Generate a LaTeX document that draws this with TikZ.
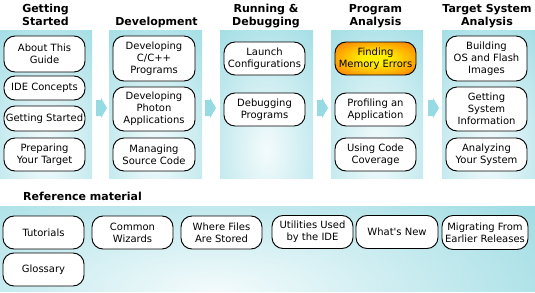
\documentclass[tikz,border=0pt]{standalone}
\usepackage{fontspec}
\setmainfont{DejaVu Sans}[Ligatures=TeXOff]
\definecolor{panelcyan}{RGB}{146,216,224}
\definecolor{panelin}{RGB}{244,251,252}
\definecolor{arrowcyan}{RGB}{150,218,228}
\definecolor{glowyellow}{RGB}{255,240,0}
\definecolor{glowmid}{RGB}{255,160,0}
\definecolor{gloworange}{RGB}{238,90,16}
\pgfdeclareradialshading{orangeglow}{\pgfpoint{0bp}{0bp}}{%
  color(0bp)=(glowyellow); color(8bp)=(glowyellow); color(26bp)=(glowmid);
  color(42bp)=(gloworange); color(72bp)=(gloworange)}
\tikzset{
  box/.style={draw=black, line width=0.95pt, rounded corners=11pt, fill=white,
    align=center, inner sep=0pt, text=black,
    font=\fontsize{10}{12}\selectfont},
  sz/.style 2 args={minimum width=#1pt, minimum height=#2pt},
  hot/.style={shading=orangeglow},
  head/.style={align=center, inner sep=0pt, text=black,
    font=\fontsize{11}{13}\selectfont\bfseries},
  blockarrow/.style={fill=arrowcyan, draw=none}
}
\begin{document}
\begin{tikzpicture}[x=1pt,y=-1pt]
\useasboundingbox (0,0) rectangle (535,292);
% column panels
\foreach \l/\r in {0/92, 109/202, 220/313, 331/423, 442/535}{
  \begin{scope}
    \clip (\l,30) rectangle (\r,178);
    \fill[panelcyan] (\l,30) rectangle (\r,178);
    \shade[inner color=panelin, outer color=panelcyan] ({(\l+\r)/2},150) ellipse (100 and 180);
  \end{scope}
}
% bottom panel
\begin{scope}
  \clip (0,206) rectangle (535,291);
  \fill[panelcyan] (0,206) rectangle (535,291);
  \shade[inner color=panelin, outer color=panelcyan] (215,292) ellipse (460 and 165);
\end{scope}
% block arrows
\foreach \a in {96, 205, 317, 428}{
  \fill[blockarrow] (\a,100) -- (\a+5,100) -- (\a+5,98) -- (\a+11,108) -- (\a+5,118) -- (\a+5,116) -- (\a,116) -- cycle;
}
% headers
\node[head, anchor=base] (h1) at (45.5,25) {Getting\\Started};
\node[head, anchor=base] (h2) at (156.5,25) {Development};
\node[head, anchor=base] (h3) at (266,25) {Running \&\\Debugging};
\node[head, anchor=base] (h4) at (375.5,25) {Program\\Analysis};
\node[head, anchor=base] (h5) at (487,25) {Target System\\Analysis};
\node[head, anchor=base west] (h6) at (23,200) {Reference material};
% column 1
\node[box, sz={81}{36}] (about) at (44.5,54) {About This\\Guide};
\node[box, sz={81}{24}] (ide) at (44.5,88) {IDE Concepts};
\node[box, sz={81}{25}] (gs) at (44.5,118.5) {Getting Started};
\node[box, sz={81}{33}] (prep) at (44.5,154.5) {Preparing\\Your Target};
% column 2
\node[box, sz={82}{45}] (devc) at (154,58.5) {Developing\\C/C++\\Programs};
\node[box, sz={82}{44}] (devp) at (154,109) {Developing\\Photon\\Applications};
\node[box, sz={82}{33}] (src) at (154,154.5) {Managing\\Source Code};
% column 3
\node[box, sz={81}{33}] (launch) at (264.5,58.5) {Launch\\Configurations};
\node[box, sz={81}{33}] (debug) at (264.5,109.5) {Debugging\\Programs};
% column 4
\node[box, hot, sz={81}{33}] (mem) at (375.5,58.5) {Finding\\Memory Errors};
\node[box, sz={81}{33}] (prof) at (375.5,109.5) {Profiling an\\Application};
\node[box, sz={81}{33}] (cov) at (375.5,154.5) {Using Code\\Coverage};
% column 5
\node[box, sz={81}{45}] (build) at (486.5,58.5) {Building\\OS and Flash\\Images};
\node[box, sz={81}{44}] (sysinfo) at (486.5,109) {Getting\\System\\Information};
\node[box, sz={81}{33}] (analyze) at (486.5,154.5) {Analyzing\\Your System};
% reference material
\node[box, sz={81}{33}] (tut) at (43.5,232.5) {Tutorials};
\node[box, sz={81}{33}] (wiz) at (132.5,232.5) {Common\\Wizards};
\node[box, sz={81}{33}] (where) at (221.5,232.5) {Where Files\\Are Stored};
\node[box, sz={81}{33}] (util) at (312.5,232) {Utilities Used\\by the IDE};
\node[box, sz={82}{33}] (new) at (397,232) {What's New};
\node[box, sz={86}{34}] (migr) at (485,232.5) {Migrating From\\Earlier Releases};
\node[box, sz={81}{33}] (gloss) at (43.5,269.5) {Glossary};
\end{tikzpicture}
\end{document}
